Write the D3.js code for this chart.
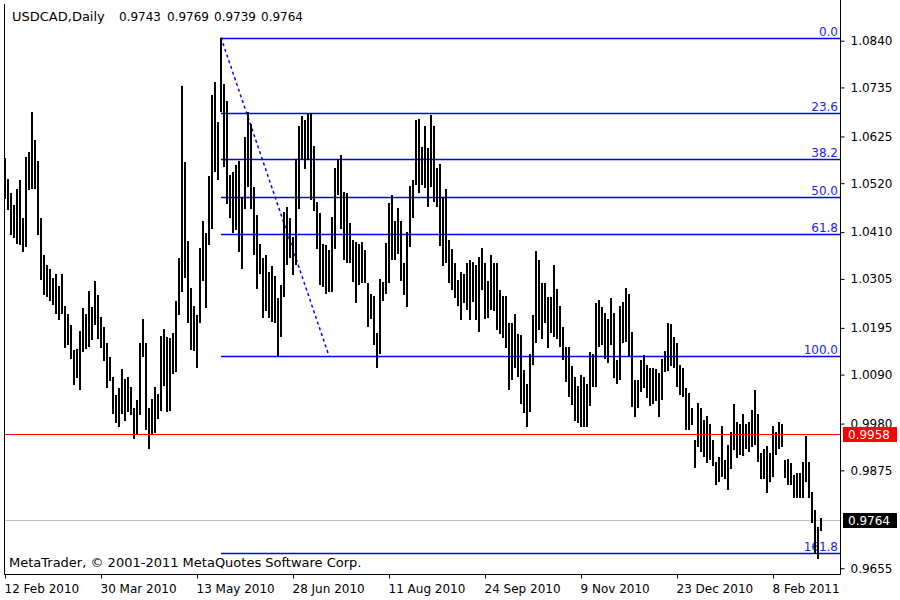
<!DOCTYPE html>
<html><head><meta charset="utf-8">
<script src="https://cdn.jsdelivr.net/npm/d3@7/dist/d3.min.js"></script>
<style>
body{margin:0;background:#fff}
svg{display:block}
text{font-family:"DejaVu Sans",sans-serif;font-size:12px}
</style>
</head><body>
<svg id="chart" width="900" height="600"></svg>
<script>
const symbol = "USDCAD,Daily";
const lastOHLC = ["0.9743", "0.9769", "0.9739", "0.9764"];
const copyright = "MetaTrader, \u00A9 2001-2011 MetaQuotes Software Corp.";

const highs = [
1.0577,1.0530,1.0497,1.0471,1.0508,1.0527,1.0441,1.0578,1.0590,1.0679,
1.0618,1.0570,1.0441,1.0358,1.0337,1.0328,1.0306,1.0317,1.0289,1.0317,
1.0244,1.0227,1.0201,1.0145,1.0148,1.0187,1.0240,1.0227,1.0277,1.0242,
1.0301,1.0268,1.0220,1.0197,1.0160,1.0130,1.0085,1.0044,1.0059,1.0102,
1.0080,1.0085,1.0062,1.0014,1.0032,1.0160,1.0214,1.0160,1.0014,1.0035,
1.0062,1.0047,1.0176,1.0193,1.0175,1.0172,1.0184,1.0255,1.0351,1.0739,
1.0568,1.0390,1.0285,1.0244,1.0223,1.0375,1.0435,1.0409,1.0536,1.0719,
1.0748,1.0658,1.0847,1.0742,1.0704,1.0538,1.0545,1.0560,1.0569,1.0489,
1.0624,1.0679,1.0652,1.0512,1.0448,1.0384,1.0351,1.0358,1.0321,1.0334,
1.0312,1.0261,1.0291,1.0456,1.0467,
1.0441,1.0399,1.0575,1.0648,1.0671,1.0663,1.0675,1.0677,1.0603,1.0478,
1.0452,1.0384,1.0381,1.0369,1.0443,1.0553,1.0575,1.0584,1.0501,1.0498,
1.0431,1.0392,1.0388,1.0384,1.0388,1.0371,1.0295,1.0271,1.0266,1.0184,
1.0304,1.0298,1.0386,1.0476,1.0493,1.0435,1.0465,1.0435,1.0340,1.0411,
1.0513,1.0527,1.0662,1.0665,1.0602,1.0648,1.0600,1.0673,1.0648,1.0553,
1.0564,1.0489,1.0506,1.0392,1.0373,1.0341,1.0302,1.0321,1.0317,1.0341,
1.0347,1.0343,1.0336,1.0354,1.0375,1.0341,1.0301,1.0358,1.0341,1.0340,
1.0281,1.0266,1.0266,1.0205,1.0205,1.0227,1.0182,1.0178,1.0101,1.0070,
1.0137,1.0223,1.0367,1.0347,1.0296,1.0296,1.0265,1.0265,1.0336,1.0283,
1.0244,1.0196,1.0152,1.0152,
1.0109,1.0085,1.0064,1.0089,1.0084,1.0070,1.0141,1.0136,1.0250,1.0258,
1.0241,1.0228,1.0214,1.0261,1.0228,1.0123,1.0244,1.0254,1.0284,1.0271,
1.0186,1.0078,1.0079,1.0123,1.0134,1.0112,1.0106,1.0104,1.0102,1.0094,
1.0126,1.0144,1.0205,1.0204,1.0174,1.0160,1.0112,1.0104,1.0061,1.0048,
1.0016,0.9944,1.0027,1.0014,0.9988,0.9997,0.9979,0.9944,0.9894,0.9904,
0.9974,0.9898,0.9932,0.9962,1.0024,0.9984,0.9980,1.0001,0.9979,0.9984,
1.0010,1.0055,1.0001,0.9914,0.9924,0.9929,0.9913,0.9974,0.9962,0.9984,
0.9980,0.9898,0.9900,0.9892,0.9864,0.9868,0.9870,0.9894,0.9952,0.9894,
0.9827,0.9786,0.9748,0.9769
];

const lows = [
1.0484,1.0459,1.0403,1.0396,1.0384,1.0381,1.0366,1.0377,1.0504,1.0508,
1.0507,1.0403,1.0302,1.0268,1.0265,1.0255,1.0247,1.0227,1.0212,1.0227,
1.0150,1.0156,1.0126,1.0066,1.0083,1.0056,1.0140,1.0147,1.0152,1.0167,
1.0202,1.0171,1.0150,1.0121,1.0060,1.0075,1.0002,0.9982,0.9972,1.0002,
0.9985,1.0006,0.9999,0.9946,0.9957,1.0000,1.0130,0.9965,0.9924,0.9957,
0.9960,0.9991,1.0008,1.0065,1.0005,1.0008,1.0092,1.0096,1.0225,1.0276,
1.0306,1.0205,1.0145,1.0142,1.0104,1.0205,1.0300,1.0240,1.0381,1.0417,
1.0545,1.0527,1.0679,1.0557,1.0474,1.0441,1.0407,1.0414,1.0366,1.0328,
1.0462,1.0512,1.0463,1.0358,1.0282,1.0317,1.0217,1.0232,1.0217,1.0208,
1.0205,1.0132,1.0175,1.0265,1.0336,
1.0351,1.0313,1.0336,1.0461,1.0573,1.0551,1.0572,1.0482,1.0458,1.0373,
1.0291,1.0287,1.0272,1.0276,1.0276,1.0373,1.0493,1.0418,1.0347,1.0340,
1.0340,1.0298,1.0251,1.0291,1.0295,1.0295,1.0197,1.0214,1.0156,1.0104,
1.0137,1.0255,1.0272,1.0295,1.0347,1.0347,1.0362,1.0301,1.0268,1.0241,
1.0377,1.0441,1.0516,1.0497,1.0516,1.0510,1.0467,1.0512,1.0478,1.0467,
1.0378,1.0334,1.0340,1.0295,1.0280,1.0261,1.0244,1.0212,1.0250,1.0235,
1.0212,1.0253,1.0212,1.0186,1.0280,1.0216,1.0218,1.0235,1.0233,1.0190,
1.0182,1.0173,1.0149,1.0056,1.0077,1.0104,1.0085,1.0025,1.0004,0.9973,
1.0006,1.0111,1.0160,1.0190,1.0171,1.0205,1.0149,1.0184,1.0175,1.0171,
1.0152,1.0122,1.0073,1.0040,
1.0021,0.9986,0.9982,0.9973,0.9973,0.9973,1.0019,1.0063,1.0063,1.0153,
1.0156,1.0126,1.0115,1.0156,1.0082,1.0070,1.0078,1.0160,1.0164,1.0132,
1.0018,0.9995,1.0014,1.0052,1.0059,1.0037,1.0019,1.0025,1.0031,0.9995,
1.0033,1.0097,1.0099,1.0109,1.0104,1.0063,1.0044,1.0040,0.9965,0.9965,
0.9977,0.9881,0.9928,0.9917,0.9906,0.9892,0.9898,0.9885,0.9842,0.9849,
0.9861,0.9855,0.9831,0.9879,0.9920,0.9902,0.9909,0.9907,0.9922,0.9917,
0.9928,0.9932,0.9894,0.9855,0.9855,0.9825,0.9849,0.9861,0.9909,0.9924,
0.9928,0.9857,0.9842,0.9842,0.9812,0.9812,0.9812,0.9812,0.9849,0.9812,
0.9756,0.9688,0.9675,0.9739
];

const priceTicks = [1.0840,1.0735,1.0625,1.0520,1.0410,1.0305,1.0195,1.0090,0.9980,0.9875,0.9655];
const timeTickBars = [0,32,64,96,128,160,192,224,256];
const timeTickLabels = ["12 Feb 2010","30 Mar 2010","13 May 2010","28 Jun 2010","11 Aug 2010","24 Sep 2010","9 Nov 2010","23 Dec 2010","8 Feb 2011"];

const fibLevels = [0, 23.6, 38.2, 50, 61.8, 100, 161.8];
const fibHigh = 1.0847, fibLow = 1.0132;
const fibStartBar = 72, fibEndBar = 108;
const lineLevel = 0.9958;
const bidLevel = 0.9764;

const svg = d3.select("#chart");
const L = 4, R = 840, B = 574;

const x = d3.scaleLinear().domain([0, highs.length - 1]).range([5, 5 + 3 * (highs.length - 1)]);
const y = d3.scaleLinear().domain([0.9655, 1.0840]).range([568.3, 40.7]);

svg.append("rect").attr("width", 900).attr("height", 600).attr("fill", "#fff");

// header
const hx = [119, 167, 214, 261];
svg.append("text").attr("x", 12).attr("y", 21).attr("fill", "#000").style("font-size", "13px").text(symbol);
lastOHLC.forEach((v, i) => svg.append("text").attr("x", hx[i]).attr("y", 21).attr("fill", "#000").text(v));

// bid line (grey)
const by = Math.round(y(bidLevel));
svg.append("rect").attr("x", L).attr("width", R - L).attr("y", by).attr("height", 1)
  .attr("fill", "#c0c0c0").attr("shape-rendering", "crispEdges");

// fibonacci
const fibVal = p => fibHigh - (fibHigh - fibLow) * p / 100;
const fg = svg.append("g");
fibLevels.forEach(p => {
  const yy = Math.round(y(fibVal(p))) + 0.5;
  fg.append("line").attr("x1", x(fibStartBar)).attr("x2", R).attr("y1", yy).attr("y2", yy)
    .style("stroke", "#0000ff").style("stroke-width", 1.3);
  fg.append("text").attr("x", 838).attr("y", yy - 3).attr("text-anchor", "end")
    .attr("fill", "#2222ff").text(p.toFixed(1));
});
fg.append("line").attr("x1", x(fibStartBar)).attr("y1", y(fibHigh))
  .attr("x2", x(fibEndBar)).attr("y2", y(fibLow))
  .style("stroke", "#0000ff").style("stroke-width", 1.5).style("stroke-dasharray", "3,3");

// bars
svg.append("g").selectAll("rect").data(highs).join("rect")
  .attr("x", (d, i) => x(i) - 1)
  .attr("width", 2)
  .attr("y", d => Math.round(y(d)))
  .attr("height", (d, i) => Math.max(1, Math.round(y(lows[i])) - Math.round(y(d))))
  .attr("fill", "#000")
  .attr("shape-rendering", "crispEdges");

// horizontal line (red)
const ry = Math.round(y(lineLevel)) + 1;
svg.append("rect").attr("x", L).attr("width", R - L).attr("y", ry).attr("height", 1)
  .attr("fill", "#ff0000").attr("shape-rendering", "crispEdges");

// frame
svg.append("line").attr("x1", L + 0.5).attr("x2", L + 0.5).attr("y1", 4).attr("y2", B).style("stroke", "#000");
svg.append("line").attr("x1", R + 0.5).attr("x2", R + 0.5).attr("y1", 0).attr("y2", B + 1).style("stroke", "#000");
svg.append("line").attr("x1", L).attr("x2", R + 1).attr("y1", B + 0.5).attr("y2", B + 0.5).style("stroke", "#000");

// price axis
const ya = svg.append("g").attr("transform", `translate(${R + 0.5},0)`)
  .call(d3.axisRight(y).tickValues(priceTicks).tickSize(4).tickPadding(6).tickFormat(d3.format(".4f")));
ya.select(".domain").remove();
ya.selectAll("text").attr("font-family", "DejaVu Sans").attr("font-size", 12).attr("fill", "#000");

// time axis
const xa = svg.append("g").attr("transform", `translate(0,${B + 0.5})`)
  .call(d3.axisBottom(x).tickValues(timeTickBars).tickSize(4).tickPadding(6)
    .tickFormat((d, i) => timeTickLabels[i]));
xa.select(".domain").remove();
xa.selectAll("text").attr("text-anchor", "start").attr("x", -1)
  .attr("font-family", "DejaVu Sans").attr("font-size", 12).attr("fill", "#000");

// price tags
function tag(v, bg, dyOff) {
  const yy = Math.round(y(v)) + dyOff;
  svg.append("rect").attr("x", 843).attr("y", yy - 7).attr("width", 54).attr("height", 15).attr("fill", bg);
  svg.append("text").attr("x", 848).attr("y", yy).attr("dy", "0.38em").attr("fill", "#fff").text(v.toFixed(4));
}
tag(lineLevel, "#ff0000", 1);
tag(bidLevel, "#000000", 0);

// copyright
svg.append("text").attr("x", 9).attr("y", 567).attr("fill", "#000").style("font-size", "13px").text(copyright);
</script>
</body></html>
